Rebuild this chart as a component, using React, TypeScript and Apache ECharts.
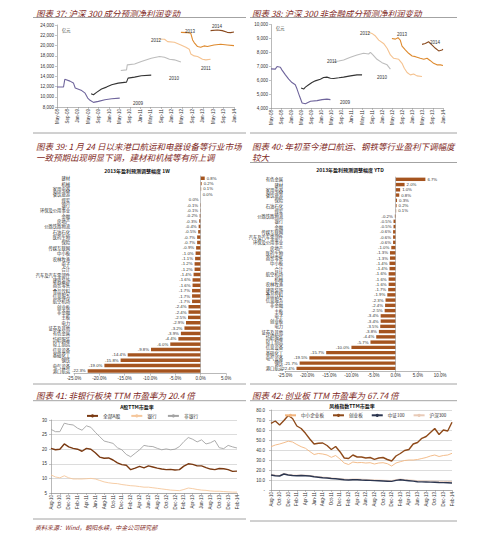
import React, { useEffect, useRef } from 'react';
import * as echarts from 'echarts';

const FONT_LAT = '"Liberation Sans", Arial, sans-serif';
const FONT_CJK = '"Noto Sans CJK SC", "Liberation Sans", sans-serif';
const TITLE_COLOR = '#7f2a1e';
const BAR_COLOR = '#a5541f';

// ---------- Panel 37 / 38 (month index from May-08) ----------
const TICKS_37 = ['May-08', 'Sep-08', 'Jan-09', 'May-09', 'Sep-09', 'Jan-10', 'May-10', 'Sep-10', 'Jan-11', 'May-11', 'Sep-11', 'Jan-12', 'May-12', 'Sep-12', 'Jan-13', 'May-13', 'Sep-13', 'Jan-14'];

const P37_2009 = [[0, 11900], [2.5, 11900], [3, 13400], [5, 13050], [6.3, 12700], [7, 11700], [9.5, 11200], [10.8, 10700], [11.8, 9750], [12.7, 9300], [14, 8900], [15.9, 9100], [18.4, 9420], [21, 9600], [24.1, 9740]];
const P37_2010 = [[13.1, 10590], [14, 10400], [15.2, 10850], [17.1, 11500], [19, 11880], [21, 12340], [23.5, 12660], [26.7, 12850], [27.3, 13630], [29.8, 13830], [32.4, 14090], [36.2, 14220]];
const P37_2011 = [[24.5, 15120], [26.7, 15250], [27, 16220], [29.8, 16400], [32.4, 16870], [36.2, 17520], [39.4, 17840], [41.3, 17710], [43.2, 17330], [45.1, 17200], [47.6, 16800]];
const P37_2012 = [[38.7, 21280], [41.3, 21210], [42.5, 20760], [45.1, 20630], [47.6, 20110], [49.5, 19660], [50.8, 19270], [51.4, 18360], [52.7, 17970], [54, 17840], [55.9, 17330], [57.2, 17200], [59, 17330]];
const P37_2013 = [[47.6, 22570], [50.2, 22510], [51.4, 22380], [52.1, 21080], [52.7, 20570], [54, 19790], [55.2, 19660], [56.5, 19920], [57.8, 19790], [60.3, 20110], [62.9, 20240], [65.4, 20110], [68, 19980]];
const P37_2014 = [[59, 22900], [61.6, 23030], [63.5, 22900], [65.4, 22570], [66.7, 22510], [68, 22640]];

const P38_2009 = [[0, 6810], [1.7, 6790], [2.4, 6980], [3.7, 6930], [4.3, 6740], [5.7, 6380], [7, 6070], [8.3, 5830], [9.6, 5670], [10.3, 5360], [11.3, 4840], [12.3, 4360], [13.6, 4310], [15.6, 4480], [18.2, 4530], [20.2, 4600], [22.1, 4640], [23.5, 4600]];
const P38_2010 = [[11.9, 5430], [12.9, 5360], [13.6, 5500], [14.9, 5670], [16.2, 5830], [17.5, 5950], [19.5, 6070], [20.8, 6190], [22.1, 6220], [23.5, 6140], [24.8, 6120], [26.8, 6170], [28.7, 6220], [31.4, 6310], [34, 6380], [36, 6380]];
const P38_2011 = [[24.8, 7330], [26.8, 7380], [28.7, 7450], [31.4, 7640], [34, 7810], [36.6, 7930], [38.6, 7880], [39.3, 8000], [40.3, 7810], [41.9, 7500], [43.9, 7260], [45.9, 7100], [47.2, 6790]];
const P38_2012 = [[38, 9480], [39.9, 9360], [41.3, 9170], [42.6, 8880], [44.5, 8640], [45.9, 8290], [47.2, 7810], [48.5, 7570], [50.5, 7500], [51.8, 7210], [52.7, 6860], [53.8, 6550], [55.1, 6380], [56.4, 6450], [57.7, 6310], [59.7, 6260]];
const P38_2013 = [[47.8, 9000], [49.2, 8950], [50.2, 9050], [51.1, 8880], [51.8, 8450], [53.1, 8170], [54.4, 7930], [55.8, 7740], [57.1, 7690], [59, 7570], [60.4, 7500], [61.7, 7570], [63, 7400], [64.3, 7210], [65.6, 7100], [67, 7100], [68, 7050]];
const P38_2014 = [[59.7, 8570], [61, 8640], [62.3, 8760], [63.7, 8520], [65, 8290], [66.3, 8100], [67.6, 8170], [68, 8220]];

const YEAR_COLORS = { y2009: '#6f659c', y2010: '#333333', y2011: '#bdbdbd', y2012: '#f5c391', y2013: '#de8a2e', y2014: '#8a4a1e' };

// ---------- Panel 39 / 40 ----------
const CAT_1W = ['建材', '机械', '家用电器', '餐饮旅游', '煤炭', '银行', '环保及公用事业', '金融', '房地产', '公路铁路物流', '石油石化', '医药生物', '保险', '传媒互联网', '中小板', '农林牧渔', '电子', '合计', '汽车及汽车零部件', '建筑装饰', '商贸零售', '食品饮料', '信息服务', '航空机场', '创业板', '非金融', '主板', '电力', '证券及其他', '有色金属', '纺织服装', '轻工制造', '信息设备', '基础化工', '钢铁', '电气设备', '港口航运'];
const VAL_1W = [0.8, 0.2, 0.1, 0.0, -0.0, -0.1, -0.1, -0.2, -0.3, -0.4, -0.5, -0.7, -0.7, -0.9, -1.0, -1.1, -1.2, -1.2, -1.4, -1.6, -1.6, -1.7, -1.7, -1.7, -2.4, -2.4, -2.5, -2.9, -3.2, -3.9, -4.4, -6.0, -9.8, -14.4, -15.8, -19.0, -22.3];

const CAT_YTD = ['有色金属', '建材', '家用电器', '餐饮旅游', '保险', '石油石化', '煤炭', '公路铁路物流', '银行', '金融', '传媒互联网', '汽车及汽车零部件', '环保及公用事业', '房地产', '医药生物', '商贸零售', '中小板', '合计', '航空机场', '机械', '农林牧渔', '建筑装饰', '食品饮料', '信息服务', '非金融', '主板', '电子', '创业板', '电力', '证券及其他', '纺织服装', '轻工制造', '信息设备', '基础化工', '电气设备', '钢铁', '港口航运'];
const VAL_YTD = [6.7, 2.0, 1.0, 0.8, 0.3, 0.2, 0.1, -0.2, -0.5, -0.5, -0.6, -0.6, -0.6, -1.0, -1.3, -1.3, -1.4, -1.4, -1.6, -1.6, -1.6, -1.7, -1.9, -2.3, -2.4, -2.5, -3.4, -3.4, -3.5, -3.8, -4.4, -5.7, -10.0, -15.7, -19.5, -21.7, -22.4];

// ---------- Panel 41 / 42 (monthly) ----------
const MONTHS = ['Aug-10', 'Sep-10', 'Oct-10', 'Nov-10', 'Dec-10', 'Jan-11', 'Feb-11', 'Mar-11', 'Apr-11', 'May-11', 'Jun-11', 'Jul-11', 'Aug-11', 'Sep-11', 'Oct-11', 'Nov-11', 'Dec-11', 'Jan-12', 'Feb-12', 'Mar-12', 'Apr-12', 'May-12', 'Jun-12', 'Jul-12', 'Aug-12', 'Sep-12', 'Oct-12', 'Nov-12', 'Dec-12', 'Jan-13', 'Feb-13', 'Mar-13', 'Apr-13', 'May-13', 'Jun-13', 'Jul-13', 'Aug-13', 'Sep-13', 'Oct-13', 'Nov-13', 'Dec-13', 'Jan-14', 'Feb-14'];

const ALL_A = [20.3, 19.8, 20.0, 21.8, 20.8, 20.3, 20.0, 19.3, 20.3, 20.0, 18.8, 17.3, 16.9, 17.0, 16.3, 15.3, 14.7, 14.5, 13.0, 13.5, 14.1, 13.6, 14.3, 13.9, 13.5, 13.2, 13.0, 13.1, 12.9, 13.0, 14.2, 15.0, 14.8, 14.3, 14.3, 13.7, 13.2, 13.0, 13.4, 13.3, 13.0, 12.4, 12.5];
const BANK = [11.2, 10.5, 10.2, 10.9, 10.2, 9.8, 9.8, 9.8, 9.9, 10.0, 9.8, 9.3, 8.8, 8.5, 8.3, 8.2, 7.9, 7.7, 7.5, 7.4, 7.2, 7.0, 7.0, 6.8, 6.6, 6.4, 6.2, 6.0, 5.9, 5.8, 6.2, 6.7, 6.5, 6.2, 6.0, 5.9, 5.7, 5.6, 5.6, 5.5, 5.4, 5.3, 5.3];
const NON_BANK = [26.8, 26.0, 26.0, 28.9, 28.5, 28.3, 27.2, 26.5, 28.0, 27.5, 25.8, 24.3, 22.8, 22.4, 22.0, 20.5, 19.8, 18.2, 17.4, 18.6, 19.8, 21.3, 21.0, 20.9, 20.3, 19.8, 20.1, 19.8, 20.0, 20.9, 22.6, 24.0, 23.4, 22.5, 23.2, 21.8, 22.2, 23.0, 20.5, 20.2, 21.3, 20.8, 20.4];

const SME = [43.3, 45.0, 46.0, 47.3, 48.8, 48.0, 45.5, 43.3, 41.7, 38.5, 35.5, 36.5, 36.0, 35.0, 32.7, 34.5, 31.0, 27.0, 25.5, 28.0, 27.3, 27.5, 27.0, 27.3, 26.0, 27.0, 27.3, 26.3, 24.0, 27.0, 28.3, 29.5, 30.0, 30.0, 30.5, 31.5, 32.5, 34.0, 35.0, 33.5, 34.5, 35.0, 36.7];
const GEM = [66.7, 69.0, 65.0, 69.5, 74.5, 71.5, 64.0, 61.5, 56.7, 51.0, 46.0, 46.7, 47.0, 44.5, 40.5, 43.5, 38.3, 32.0, 31.5, 35.0, 33.0, 33.0, 32.0, 32.5, 30.7, 32.0, 32.5, 30.5, 29.0, 34.0, 36.5, 39.5, 40.5, 46.0, 47.5, 51.7, 53.5, 57.5, 61.5, 55.5, 60.0, 59.0, 67.7];
const CSI100 = [15.0, 14.3, 14.0, 16.0, 15.0, 14.5, 14.3, 14.5, 14.3, 14.0, 13.3, 12.8, 12.3, 12.0, 11.5, 11.2, 10.8, 10.3, 10.0, 10.3, 10.3, 10.0, 9.8, 9.6, 9.4, 9.2, 9.0, 8.8, 8.6, 9.6, 10.2, 9.7, 9.3, 8.9, 8.3, 8.1, 8.0, 7.9, 7.7, 7.5, 7.4, 7.2, 7.0];
const HS300 = [15.5, 14.8, 14.5, 16.5, 15.5, 15.0, 14.8, 15.0, 14.8, 14.5, 13.8, 13.3, 12.9, 12.6, 12.1, 11.8, 11.4, 11.0, 10.7, 11.0, 11.0, 10.8, 10.6, 10.4, 10.2, 10.0, 9.8, 9.6, 9.4, 10.4, 11.0, 10.5, 10.1, 9.8, 9.3, 9.1, 9.0, 9.0, 8.8, 8.7, 8.6, 8.5, 8.4];

// ---------- helpers ----------
function txt(x: number, y: number, text: string, o: any = {}) {
  return {
    type: 'text', x, y, z: 100, silent: true,
    style: {
      text, fill: o.fill ?? '#333', fontSize: o.size ?? 4.5, fontFamily: o.family ?? FONT_LAT,
      fontStyle: o.italic ? 'italic' : 'normal', fontWeight: o.bold ? 'bold' : 'normal',
      align: o.align ?? 'left', verticalAlign: 'middle',
    },
  };
}
function hline(x1: number, x2: number, y: number) {
  return { type: 'line', z: 100, silent: true, shape: { x1, y1: y, x2, y2: y }, style: { stroke: '#8c8c8c', lineWidth: 0.8 } };
}
const axisLineStyle = { show: true, lineStyle: { color: '#8a8a8a', width: 0.6 } };
const tickStyle = { show: true, length: 2, lineStyle: { color: '#8a8a8a', width: 0.5 } };
const lbl = (o: any = {}) => ({ fontSize: 4.5, color: '#333', fontFamily: FONT_LAT, ...o });

function lineS(name: string, data: any[], color: string, gi: number, width = 1.1) {
  return { name, type: 'line', xAxisIndex: gi, yAxisIndex: gi, data, symbol: 'none', silent: true, lineStyle: { color, width }, itemStyle: { color } };
}
function barS(cats: string[], vals: number[], gi: number) {
  return {
    type: 'bar', xAxisIndex: gi, yAxisIndex: gi, barCategoryGap: '35%', silent: true,
    itemStyle: { color: BAR_COLOR },
    data: vals.map((v) => {
      const neg = v < 0 || Object.is(v, -0);
      return { value: v, label: { position: neg ? 'left' : 'right' } };
    }),
    label: {
      show: true, fontSize: 4.3, color: '#333', fontFamily: FONT_LAT, distance: 2,
      formatter: (p: any) => vals[p.dataIndex].toFixed(1) + '%',
    },
    markLine: {
      silent: true, symbol: ['none', 'none'], label: { show: false },
      lineStyle: { color: '#9a9a9a', width: 0.6, type: 'solid' },
      data: [{ xAxis: 0 }],
    },
  };
}

function buildOption() {
  const monthValueX = (gi: number) => ({
    type: 'value', gridIndex: gi, min: 0, max: 68, interval: 4,
    axisLine: axisLineStyle, axisTick: tickStyle, splitLine: { show: false },
    axisLabel: lbl({ rotate: 90, margin: 2, formatter: (v: number) => TICKS_37[Math.round(v / 4)] ?? '' }),
  });
  const catX = (gi: number) => ({
    type: 'category', gridIndex: gi, data: MONTHS, boundaryGap: false,
    axisLine: axisLineStyle, axisTick: { ...tickStyle, interval: 1 },
    axisLabel: lbl({ rotate: 90, margin: 2, interval: 1 }),
  });
  const barX = (gi: number, max: number) => ({
    type: 'value', gridIndex: gi, min: -25, max, interval: 5,
    axisLine: axisLineStyle, axisTick: tickStyle, splitLine: { show: false },
    axisLabel: lbl({ margin: 2, formatter: (v: number) => v.toFixed(1) + '%' }),
  });
  const barY = (gi: number, cats: string[], margin: number) => ({
    type: 'category', gridIndex: gi, data: cats, inverse: true,
    axisLine: { show: false }, axisTick: { show: false },
    axisLabel: { fontSize: 4.3, color: '#333', fontFamily: FONT_CJK, margin, interval: 0 },
  });
  const gridLine = { show: true, lineStyle: { color: '#c4c4c4', width: 0.6 } };

  return {
    animation: false,
    backgroundColor: '#ffffff',
    grid: [
      { left: 57, top: 25, width: 177, height: 82 },
      { left: 271, top: 24.5, width: 172, height: 83.5 },
      { left: 74, top: 175.6, width: 152, height: 198 },
      { left: 285, top: 176.7, width: 155, height: 194.3 },
      { left: 51, top: 420, width: 186, height: 73 },
      { left: 271, top: 410, width: 181, height: 80 },
    ],
    xAxis: [
      monthValueX(0),
      monthValueX(1),
      barX(2, 5),
      barX(3, 10),
      catX(4),
      catX(5),
    ],
    yAxis: [
      {
        type: 'value', gridIndex: 0, min: 8000, max: 24000, interval: 2000,
        axisLine: axisLineStyle, axisTick: tickStyle, splitLine: { show: false },
        axisLabel: lbl({ margin: 3, formatter: (v: number) => v.toLocaleString('en-US') }),
      },
      {
        type: 'value', gridIndex: 1, min: 4000, max: 10000, interval: 1000,
        axisLine: axisLineStyle, axisTick: tickStyle, splitLine: { show: false },
        axisLabel: lbl({ margin: 3, formatter: (v: number) => v.toLocaleString('en-US') }),
      },
      barY(2, CAT_1W, 4),
      barY(3, CAT_YTD, 2),
      {
        type: 'value', gridIndex: 4, min: 5, max: 30, interval: 5,
        axisLine: axisLineStyle, axisTick: tickStyle, splitLine: gridLine,
        axisLabel: lbl({ margin: 4 }),
      },
      {
        type: 'value', gridIndex: 5, min: 0, max: 80, interval: 10,
        axisLine: axisLineStyle, axisTick: tickStyle, splitLine: gridLine,
        axisLabel: lbl({ margin: 6, formatter: (v: number) => (v === 0 ? '-' : v.toFixed(1)) }),
      },
    ],
    legend: [
      {
        data: ['全部A股', '银行', '非银行'], left: 86, top: 413.5, padding: 0,
        itemWidth: 11, itemHeight: 4, itemGap: 10, selectedMode: false,
        textStyle: { fontSize: 4.8, fontFamily: FONT_CJK, color: '#333' },
      },
      {
        data: ['中小企业板', '创业板', '中证100', '沪深300'], left: 284, top: 413, padding: 0,
        itemWidth: 11, itemHeight: 4, itemGap: 8, selectedMode: false,
        textStyle: { fontSize: 4.6, fontFamily: FONT_CJK, color: '#333' },
      },
    ],
    series: [
      lineS('p37-2009', P37_2009, YEAR_COLORS.y2009, 0),
      lineS('p37-2010', P37_2010, YEAR_COLORS.y2010, 0),
      lineS('p37-2011', P37_2011, YEAR_COLORS.y2011, 0),
      lineS('p37-2012', P37_2012, YEAR_COLORS.y2012, 0),
      lineS('p37-2013', P37_2013, YEAR_COLORS.y2013, 0),
      lineS('p37-2014', P37_2014, YEAR_COLORS.y2014, 0),
      lineS('p38-2009', P38_2009, YEAR_COLORS.y2009, 1),
      lineS('p38-2010', P38_2010, YEAR_COLORS.y2010, 1),
      lineS('p38-2011', P38_2011, YEAR_COLORS.y2011, 1),
      lineS('p38-2012', P38_2012, YEAR_COLORS.y2012, 1),
      lineS('p38-2013', P38_2013, YEAR_COLORS.y2013, 1),
      lineS('p38-2014', P38_2014, YEAR_COLORS.y2014, 1),
      barS(CAT_1W, VAL_1W, 2),
      barS(CAT_YTD, VAL_YTD, 3),
      lineS('非银行', NON_BANK, '#a3a3a3', 4, 0.9),
      lineS('银行', BANK, '#f5c79c', 4, 0.9),
      lineS('全部A股', ALL_A, '#7a3a12', 4, 1.4),
      lineS('沪深300', HS300, '#e9cbb8', 5, 0.9),
      lineS('中证100', CSI100, '#2c3650', 5, 1.4),
      lineS('中小企业板', SME, '#f2b57f', 5, 0.9),
      lineS('创业板', GEM, '#8e4a1a', 5, 1.4),
    ],
    graphic: [
      // row 1
      txt(36, 13, '图表 37: 沪深 300 成分预测净利润变动', { fill: TITLE_COLOR, size: 8.5, family: FONT_CJK, italic: true }),
      txt(252, 13, '图表 38: 沪深 300 非金融成分预测净利润变动', { fill: TITLE_COLOR, size: 8.5, family: FONT_CJK, italic: true }),
      hline(33, 246, 17.5),
      hline(250, 457, 17.5),
      txt(62, 30, '亿元', { family: FONT_CJK, size: 4.3 }),
      txt(276, 27.5, '亿元', { family: FONT_CJK, size: 4.3 }),
      txt(133, 103, '2009'), txt(169, 78, '2010'), txt(201, 68, '2011'),
      txt(151, 40, '2012'), txt(185, 31, '2013'), txt(212, 26, '2014'),
      txt(340, 102, '2009'), txt(377, 77, '2010'), txt(327, 61, '2011'),
      txt(360, 33.5, '2012'), txt(397, 34, '2013'), txt(430, 42, '2014'),
      hline(33, 246, 133),
      hline(250, 457, 133),
      // row 2
      txt(36, 146, '图表 39: 1 月 24 日以来港口航运和电器设备等行业市场', { fill: TITLE_COLOR, size: 8.5, family: FONT_CJK, italic: true }),
      txt(36, 157, '一致预期出现明显下调，建材和机械等有所上调', { fill: TITLE_COLOR, size: 8.5, family: FONT_CJK, italic: true }),
      txt(252, 146, '图表 40: 年初至今港口航运、钢铁等行业盈利下调幅度', { fill: TITLE_COLOR, size: 8.5, family: FONT_CJK, italic: true }),
      txt(252, 157, '较大', { fill: TITLE_COLOR, size: 8.5, family: FONT_CJK, italic: true }),
      hline(250, 457, 162.5),
      txt(137, 170, '2013年盈利预测调整幅度 1W', { family: FONT_CJK, size: 5, bold: true, align: 'center', fill: '#111' }),
      txt(350, 169.5, '2013年盈利预测调整幅度 YTD', { family: FONT_CJK, size: 5, bold: true, align: 'center', fill: '#111' }),
      hline(33, 246, 384),
      hline(250, 457, 384),
      // row 3
      txt(36, 395, '图表 41: 非银行板块 TTM 市盈率为 20.4 倍', { fill: TITLE_COLOR, size: 8.5, family: FONT_CJK, italic: true }),
      txt(252, 395, '图表 42: 创业板 TTM 市盈率为 67.74 倍', { fill: TITLE_COLOR, size: 8.5, family: FONT_CJK, italic: true }),
      hline(33, 246, 400.7),
      hline(250, 457, 400.7),
      txt(137, 406, 'A股TTM市盈率', { family: FONT_CJK, size: 5, bold: true, align: 'center', fill: '#111' }),
      txt(352, 405.5, '风格指数TTM市盈率', { family: FONT_CJK, size: 5, bold: true, align: 'center', fill: '#111' }),
      hline(33, 246, 519),
      hline(250, 457, 521),
      txt(35, 527, '资料来源：Wind，朝阳永续，中金公司研究部', { fill: TITLE_COLOR, size: 6, family: FONT_CJK, italic: true }),
    ],
  };
}

export default function App() {
  const ref = useRef<HTMLDivElement>(null);
  useEffect(() => {
    if (!ref.current) return;
    const chart = echarts.init(ref.current, undefined, { renderer: 'svg' });
    chart.setOption(buildOption() as any);
    return () => chart.dispose();
  }, []);
  return (
    <div
      ref={ref}
      style={{ position: 'fixed', left: 0, top: 0, width: 500, height: 539, background: '#fff' }}
    />
  );
}
